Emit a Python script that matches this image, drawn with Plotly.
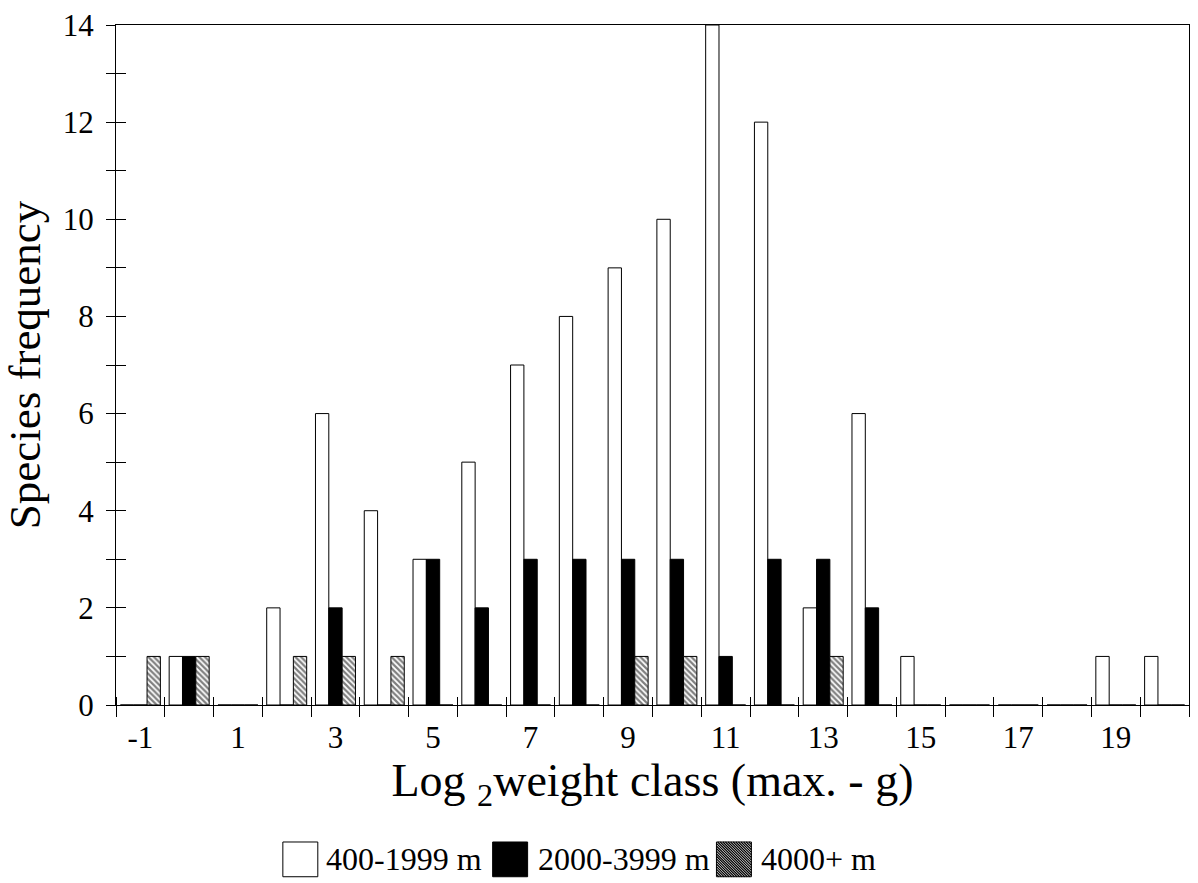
import plotly.graph_objects as go

# ---- data ----
weight_class = list(range(-1, 21))
freq_400_1999 = [0, 1, 0, 2, 6, 4, 3, 5, 7, 8, 9, 10, 14, 12, 2, 6, 1, 0, 0, 0, 1, 1]
freq_2000_3999 = [0, 1, 0, 0, 2, 0, 3, 2, 3, 3, 3, 3, 1, 3, 3, 2, 0, 0, 0, 0, 0, 0]
freq_4000_plus = [1, 1, 0, 1, 1, 1, 0, 0, 0, 0, 1, 1, 0, 0, 1, 0, 0, 0, 0, 0, 0, 0]
series_names = ["400-1999 m", "2000-3999 m", "4000+ m"]
x_tick_vals = list(range(-1, 20, 2))
x_tick_text = [str(v) for v in x_tick_vals]

W, H = 1198, 883
ML, MR, MT, MB = 116, 8, 20, 178
PW, PH = W - ML - MR, H - MT - MB
FONT = "Liberation Serif"


def px(x):
    return (x - ML) / PW


def py(y):
    return (H - MB - y) / PH


fig = go.Figure()
fig.add_trace(go.Bar(x=weight_class, y=freq_400_1999, name=series_names[0],
                     marker=dict(color="white", line=dict(color="black", width=1))))
fig.add_trace(go.Bar(x=weight_class, y=freq_2000_3999, name=series_names[1],
                     marker=dict(color="black", line=dict(color="black", width=1))))
fig.add_trace(go.Bar(x=weight_class, y=freq_4000_plus, name=series_names[2],
                     marker=dict(color="white", line=dict(color="black", width=1),
                                 pattern=dict(shape="\\", fgcolor="black", bgcolor="white",
                                              size=4, solidity=0.55))))
# helper trace to create overlay axes for inside ticks
fig.add_trace(go.Scatter(x=[None], y=[None], xaxis="x2", yaxis="y2", showlegend=False,
                         hoverinfo="skip"))

xr = [-1.5, 20.5]
yr = [0, 14]
fig.update_layout(
    width=W, height=H,
    margin=dict(l=ML, r=MR, t=MT, b=MB),
    paper_bgcolor="white", plot_bgcolor="white",
    barmode="group", bargap=0.18, bargroupgap=0,
    showlegend=False,
    font=dict(family=FONT, color="black", size=31),
    xaxis=dict(range=xr, tickvals=x_tick_vals, ticktext=x_tick_text, ticks="",
               showgrid=False, zeroline=False, showline=True, linecolor="black",
               linewidth=1, mirror=True, ticklabelstandoff=5,
               tickfont=dict(size=31),
               minor=dict(tick0=-0.5, dtick=1, ticks="outside", ticklen=11,
                          tickcolor="black", showgrid=False),
               title=dict(text="Log <sub>2</sub>weight class (max. - g)",
                          font=dict(size=46), standoff=4)),
    yaxis=dict(range=yr, dtick=2, ticks="outside", ticklen=9, tickcolor="black",
               showgrid=False, zeroline=False, showline=True, linecolor="black",
               linewidth=1, mirror=True, ticklabelstandoff=6,
               tickfont=dict(size=31),
               minor=dict(dtick=1, ticks="outside", ticklen=9, tickcolor="black",
                          showgrid=False),
               title=dict(text="Species frequency", font=dict(size=45), standoff=20)),
    xaxis2=dict(range=xr, overlaying="x", anchor="y2", showticklabels=False,
                ticks="", showgrid=False, zeroline=False, showline=False,
                minor=dict(tick0=-0.5, dtick=1, ticks="inside", ticklen=8,
                           tickcolor="black", showgrid=False)),
    yaxis2=dict(range=yr, overlaying="y", anchor="x2", side="left",
                showticklabels=False, dtick=2, ticks="inside", ticklen=10,
                tickcolor="black", showgrid=False, zeroline=False, showline=False,
                minor=dict(dtick=1, ticks="inside", ticklen=10, tickcolor="black",
                           showgrid=False)),
)

# ---- custom legend (large swatches like the original) ----
box_y0, box_y1 = 843, 878
legend_items = [
    (283, 318, "white", None, 324),
    (493, 528, "black", None, 536),
    (717, 752, "white", "hatch", 760),
]
shapes = []
annotations = []
for (bx0, bx1, fill, hatch, tx), name in zip(legend_items, series_names):
    shapes.append(dict(type="rect", xref="paper", yref="paper",
                       x0=px(bx0), x1=px(bx1), y0=py(box_y1), y1=py(box_y0),
                       fillcolor=fill, line=dict(color="black", width=1)))
    if hatch:
        segs = []
        step = 2.6
        c = -(bx1 - bx0)
        while c < (box_y1 - box_y0):
            xa = bx0 + max(0, -c)
            xb = bx0 + min(bx1 - bx0, (box_y1 - box_y0) - c)
            if xb > xa:
                ya = box_y0 + (xa - bx0) + c
                yb = box_y0 + (xb - bx0) + c
                segs.append(f"M{px(xa):.5f},{py(ya):.5f}L{px(xb):.5f},{py(yb):.5f}")
            c += step
        shapes.append(dict(type="path", xref="paper", yref="paper", path="".join(segs),
                           line=dict(color="black", width=1.2)))
    annotations.append(dict(xref="paper", yref="paper", x=px(tx), y=py((box_y0 + box_y1) / 2),
                            text=name, showarrow=False, xanchor="left", yanchor="middle",
                            font=dict(family=FONT, size=32, color="black")))

fig.update_layout(shapes=shapes, annotations=annotations)
fig.write_html("out.html")
